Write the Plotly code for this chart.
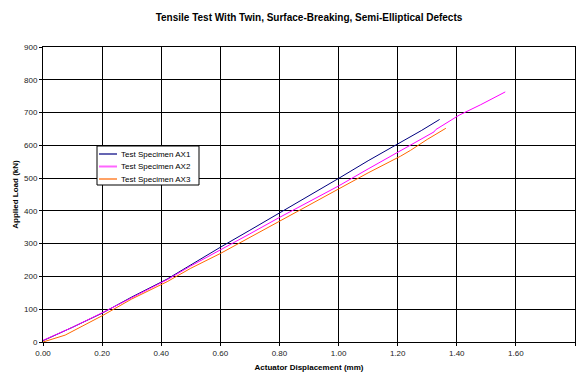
import plotly.graph_objects as go

title = "Tensile Test With Twin, Surface-Breaking, Semi-Elliptical Defects"
x_title = "Actuator Displacement (mm)"
y_title = "Applied Load (kN)"

series_names = ["Test Specimen AX1", "Test Specimen AX2", "Test Specimen AX3"]

ax1_x = [0.0, 0.05, 0.1, 0.2, 0.3, 0.42, 0.5, 0.6, 0.7, 0.8, 0.9, 1.0, 1.1, 1.21, 1.28, 1.342]
ax1_y = [4, 24, 45, 88, 137, 192, 236, 289, 341, 393, 446, 499, 553, 608, 645, 679]

ax2_x = [0.0, 0.05, 0.1, 0.2, 0.3, 0.42, 0.5, 0.6, 0.7, 0.8, 0.9, 1.0, 1.1, 1.21, 1.244, 1.323, 1.329, 1.408, 1.481, 1.538, 1.564]
ax2_y = [5, 25, 45, 89, 136, 190, 232, 280, 330, 380, 428, 476, 528, 585, 600, 641, 648, 692, 724, 752, 763]

ax3_x = [0.0, 0.075, 0.2, 0.3, 0.42, 0.5, 0.6, 0.7, 0.8, 0.9, 1.0, 1.1, 1.21, 1.244, 1.3, 1.363]
ax3_y = [0, 21, 80, 131, 184, 225, 270, 319, 368, 417, 466, 516, 567, 585, 618, 652]

colors = ["#000080", "#FF00FF", "#FF6600"]

x_ticks = [0.0, 0.2, 0.4, 0.6, 0.8, 1.0, 1.2, 1.4, 1.6, 1.8]
y_ticks = [0, 100, 200, 300, 400, 500, 600, 700, 800, 900]

W, H = 583, 376
L, R, T, B = 43, 8, 47, 34
PW, PH = W - L - R, H - T - B


def px(xp):
    return (xp - L) / PW


def py(yp):
    return (H - B - yp) / PH


fig = go.Figure()
for name, xs, ys, c in zip(series_names, [ax1_x, ax2_x, ax3_x], [ax1_y, ax2_y, ax3_y], colors):
    fig.add_trace(go.Scatter(x=xs, y=ys, mode="lines", name=name,
                             line=dict(color=c, width=1), showlegend=False))

font = "Arial, 'Liberation Sans', sans-serif"

# custom legend box (compact, like the reference)
shapes = [dict(type="rect", xref="paper", yref="paper",
               x0=px(97), x1=px(199), y0=py(146), y1=py(185),
               line=dict(color="black", width=1), fillcolor="white", layer="above")]
annotations = []
row_y = [154, 166.5, 179]
for name, c, ry in zip(series_names, colors, row_y):
    shapes.append(dict(type="line", xref="paper", yref="paper",
                       x0=px(99), x1=px(117), y0=py(ry), y1=py(ry),
                       line=dict(color=c, width=2), opacity=0.6, layer="above"))
    annotations.append(dict(xref="paper", yref="paper", x=px(119), y=py(ry),
                            xanchor="left", yanchor="middle", showarrow=False,
                            text=name, font=dict(family=font, size=8, color="black")))

fig.update_layout(
    width=W, height=H,
    margin=dict(l=L, r=R, t=T, b=B),
    paper_bgcolor="white", plot_bgcolor="white",
    title=dict(text="<b>" + title + "</b>", x=(L + W - R) / 2 / W, xanchor="center",
               y=1 - 17 / H, yanchor="middle",
               font=dict(family=font, size=10, color="black")),
    font=dict(family=font, size=8, color="black"),
    showlegend=False,
    shapes=shapes,
    annotations=annotations,
)
fig.update_xaxes(range=[0, 1.8], tickvals=x_ticks, ticktext=[f"{v:.2f}" for v in x_ticks],
                 showgrid=True, gridcolor="black", gridwidth=1,
                 showline=True, linecolor="black", linewidth=1, mirror=True,
                 ticks="outside", ticklen=3, tickcolor="black",
                 zeroline=False, automargin=False,
                 title=dict(text="<b>" + x_title + "</b>", font=dict(family=font, size=8), standoff=7),
                 tickfont=dict(family=font, size=8, color="#222"))
fig.update_yaxes(range=[0, 900], tickvals=y_ticks,
                 showgrid=True, gridcolor="black", gridwidth=1,
                 showline=True, linecolor="black", linewidth=1, mirror=True,
                 ticks="outside", ticklen=3, tickcolor="black",
                 zeroline=False, automargin=False,
                 title=dict(text="<b>" + y_title + "</b>", font=dict(family=font, size=8), standoff=4),
                 tickfont=dict(family=font, size=8, color="#222"))

post = ("document.body.style.margin='0';document.body.style.padding='0';"
        "document.body.style.overflow='hidden';"
        "Plotly.relayout('{plot_id}', {width: %d, height: %d});" % (W, H))
fig.write_html("out.html", config={"responsive": False, "displayModeBar": False},
               post_script=post)
